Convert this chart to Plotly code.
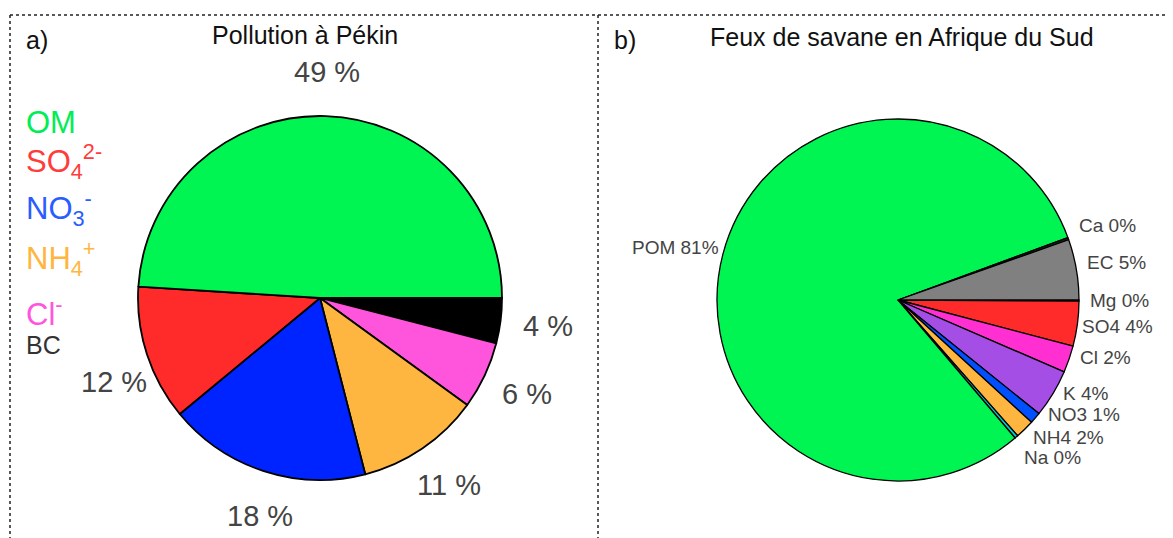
import math

import plotly.graph_objects as go

W, H = 1173, 538
OFF = 8  # default body margin of the written html page

# panel a) Pollution à Pékin, slices clockwise from 3 o'clock
beijing_names = ["BC", "Cl", "NH4", "NO3", "SO4", "OM"]
beijing_values = [4, 6, 11, 18, 12, 49]
beijing_colors = ["#000000", "#ff55dd", "#ffb640", "#0024ff", "#ff2a2a", "#00f552"]

# species list written on the left of panel a)
legend_text = [
    "OM",
    "SO<sub>4</sub><sup>2-</sup>",
    "NO<sub>3</sub><sup>-</sup>",
    "NH<sub>4</sub><sup>+</sup>",
    "Cl<sup>-</sup>",
    "BC",
]
legend_colors = ["#00ee55", "#ff3b3b", "#2a5cff", "#ffb640", "#ff55dd", "#333333"]

# panel b) Feux de savane en Afrique du Sud, slices clockwise from 3 o'clock
savanna_names = ["Mg", "SO4", "Cl", "K", "NO3", "NH4", "Na", "POM", "Ca", "EC"]
savanna_values = [0.1, 4.0, 2.4, 4.3, 1.0, 1.7, 0.3, 80.6, 0.2, 5.4]
savanna_colors = ["#ffffff", "#ff2a2a", "#ff2fd2", "#a54ee6", "#0050ff",
                  "#ffb640", "#00cccc", "#00f552", "#222222", "#808080"]

# pie geometry in page pixels: centre x, centre y, radius
PIE_A = (320, 298, 182)
PIE_B = (898, 300, 181)

# small label nudges (dx, dy) in pixels
label_nudge_a = {"SO4": (12, 14), "NO3": (11, 3)}
label_nudge_b = {"Ca": (0, -10), "EC": (0, -5), "SO4": (-6, 1), "Cl": (0, -5), "K": (0, -5),
                 "NO3": (4, -9), "NH4": (0, 2), "Na": (0, 14), "POM": (7, -4)}


def px_to_paper(x, y):
    return (x - OFF) / W, 1 - (y - OFF) / H


def pie_domain(geom):
    cx, cy, r = geom
    x0, y1 = px_to_paper(cx - r, cy - r)
    x1, y0 = px_to_paper(cx + r, cy + r)
    return dict(x=[x0, x1], y=[y0, y1])


def mid_angles(values):
    # clockwise from 3 o'clock, returned as math angles (radians)
    total = sum(values)
    out, acc = [], 0.0
    for v in values:
        out.append(-2 * math.pi * (acc + v / 2) / total)
        acc += v
    return out


fig = go.Figure()

fig.add_trace(go.Pie(
    values=beijing_values, labels=beijing_names, sort=False,
    direction="clockwise", rotation=90,
    marker=dict(colors=beijing_colors, line=dict(color="black", width=1.8)),
    textinfo="none", hoverinfo="label+percent", showlegend=False,
    domain=pie_domain(PIE_A),
))
fig.add_trace(go.Pie(
    values=savanna_values, labels=savanna_names, sort=False,
    direction="clockwise", rotation=90,
    marker=dict(colors=savanna_colors, line=dict(color="black", width=1.3)),
    textinfo="none", hoverinfo="label+percent", showlegend=False,
    domain=pie_domain(PIE_B),
))

annotations = []

# percentage labels, panel a)
cx, cy, r = PIE_A
for name, v, a in zip(beijing_names, beijing_values, mid_angles(beijing_values)):
    dx, dy = label_nudge_a.get(name, (0, 0))
    x, y = px_to_paper(cx + 1.26 * r * math.cos(a) + dx, cy - 1.24 * r * math.sin(a) + dy)
    annotations.append(dict(
        x=x, y=y, xref="paper", yref="paper", text=f"{v} %", showarrow=False,
        font=dict(size=29, color="#444444"), xanchor="center", yanchor="middle",
    ))

# name + percentage labels, panel b)
cx, cy, r = PIE_B
for name, v, a in zip(savanna_names, savanna_values, mid_angles(savanna_values)):
    dx, dy = label_nudge_b.get(name, (0, 0))
    x, y = px_to_paper(cx + 1.05 * r * math.cos(a) + dx, cy - 1.05 * r * math.sin(a) + dy)
    annotations.append(dict(
        x=x, y=y, xref="paper", yref="paper", text=f"{name} {round(v)}%",
        showarrow=False, font=dict(size=19, color="#444444"),
        xanchor="left" if math.cos(a) >= 0 else "right", yanchor="middle",
    ))

# coloured species list, panel a)
legend_y = [122, 162, 208, 258, 312, 345]
for txt, col, ly in zip(legend_text, legend_colors, legend_y):
    x, y = px_to_paper(24, ly)
    annotations.append(dict(
        x=x, y=y, xref="paper", yref="paper", text=txt, showarrow=False,
        font=dict(size=25 if txt == "BC" else 31, color=col),
        xanchor="left", yanchor="middle",
    ))

# titles
for txt, tx, ty, anchor in [
    ("a)", 24, 40, "left"),
    ("Pollution à Pékin", 305, 35, "center"),
    ("b)", 612, 40, "left"),
    ("Feux de savane en Afrique du Sud", 902, 37, "center"),
]:
    x, y = px_to_paper(tx, ty)
    annotations.append(dict(
        x=x, y=y, xref="paper", yref="paper", text=txt, showarrow=False,
        font=dict(size=25, color="#111111"), xanchor=anchor, yanchor="middle",
    ))

# dotted panel frames
border = dict(color="#222222", width=1.5, dash="dot")
top_x0, top_y = px_to_paper(10, 15)
div_x, _ = px_to_paper(598, 15)
shapes = [
    dict(type="line", xref="paper", yref="paper", x0=top_x0, x1=1, y0=top_y, y1=top_y, line=border),
    dict(type="line", xref="paper", yref="paper", x0=top_x0, x1=top_x0, y0=0, y1=top_y, line=border),
    dict(type="line", xref="paper", yref="paper", x0=div_x, x1=div_x, y0=0, y1=top_y, line=border),
]

fig.update_layout(
    width=W, height=H, autosize=False,
    margin=dict(l=0, r=0, t=0, b=0),
    paper_bgcolor="white", plot_bgcolor="white",
    font=dict(family="Liberation Sans, Arial, sans-serif"),
    annotations=annotations, shapes=shapes,
)

fig.write_html("out.html")
